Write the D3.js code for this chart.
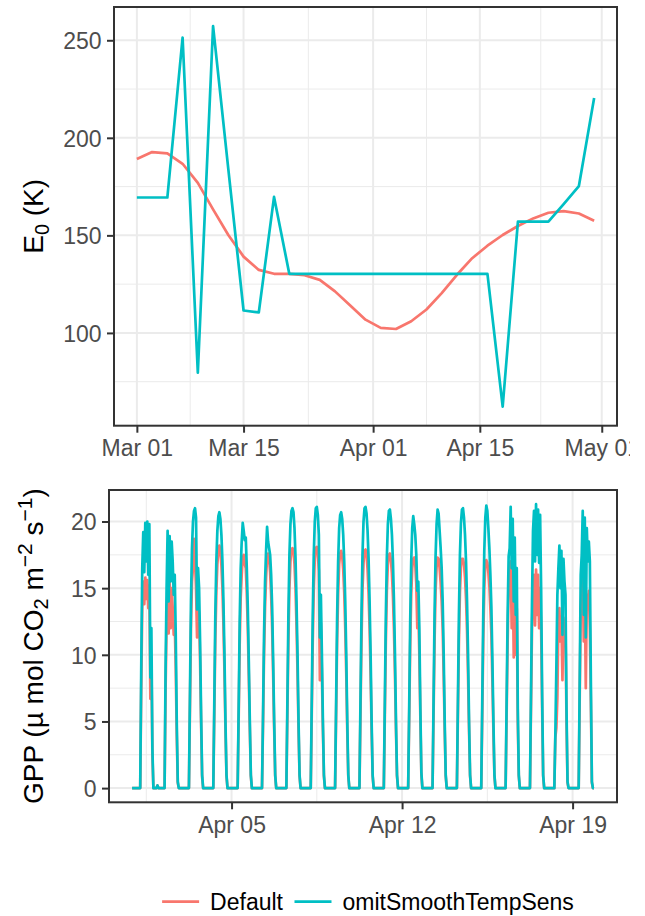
<!DOCTYPE html>
<html lang="en">
<head>
<meta charset="UTF-8">
<title>E0 and GPP, Default vs omitSmoothTempSens</title>
<script src="https://d3js.org/d3.v7.min.js"></script>
<style>
    body { margin: 0; background: #fff; }
    #canvas { font-family: "Liberation Sans", Arial, sans-serif; }
    .tick text { fill: #4d4d4d; font-size: 23px; }
    .tick line { stroke: #333333; stroke-width: 2px; }
    .axis-title { fill: #000; font-size: 28px; }
    .legend-text { fill: #000; font-size: 23px; }
</style>
</head>
<body>
<svg id="canvas" width="645" height="916"></svg>
<script>
    // ---- data ----
    const seriesNames = ["Default", "omitSmoothTempSens"];
    const seriesColors = ["#F8766D", "#00BFC4"];

    // E0, every second day
    const e0Dates = ["2021-03-01","2021-03-03","2021-03-05","2021-03-07","2021-03-09","2021-03-11",
        "2021-03-13","2021-03-15","2021-03-17","2021-03-19","2021-03-21","2021-03-23","2021-03-25",
        "2021-03-27","2021-03-29","2021-03-31","2021-04-02","2021-04-04","2021-04-06","2021-04-08",
        "2021-04-10","2021-04-12","2021-04-14","2021-04-16","2021-04-18","2021-04-20","2021-04-22",
        "2021-04-24","2021-04-26","2021-04-28","2021-04-30"];
    const e0Default = [189.1,192.7,192.0,186.7,176.9,163.3,150.2,139.1,132.3,130.3,130.3,129.6,127.2,
        121.3,114.0,106.8,102.6,102.0,106.0,112.0,120.4,129.8,138.3,144.7,150.2,154.8,158.7,161.6,
        162.4,161.2,157.5];
    const e0Omit = [169.4,169.4,169.4,251.4,79.6,257.3,184.0,111.5,110.5,169.7,130.3,130.3,130.3,
        130.3,130.3,130.3,130.3,130.3,130.3,130.3,130.3,130.3,130.3,130.3,62.2,157.0,157.0,157.0,
        166.0,175.3,220.4];
    const e0XTicks = ["2021-03-01","2021-03-15","2021-04-01","2021-04-15","2021-05-01"];
    const e0YTicks = [100, 150, 200, 250];

    // GPP, hourly from 2021-03-31 22:00; one row per day (22:00 .. 21:00)
    const gppStart = "2021-03-31T22:00:00Z";
    const gppDefault = [
        [0,0,0,0,0,0,0,0, 0,7.5,13.5,15.5,13.8,15.8,14.2,15.6,13.5,15.2,6.7,9.8,2.5,0,0, 0],
        [0,0.2,0,0,0,0,0,0, 0,7.5,12.5,15,11.6,15.5,12,15,13.5,11.5,12.5,9,4,0.4,0, 0],
        [0,0,0,0,0,0,0,0, 0,6,12,15.5,16.5,18.7,17,15,11.3,14,13,9.5,4.8,0.8,0, 0],
        [0,0,0,0,0,0,0,0, 0,5.6,11.2,14.7,16.8,17.8,18.2,17.8,16.7,15,12.3,8.8,4.4,0.9,0, 0],
        [0,0,0,0,0,0,0,0, 0,5.2,10.8,14.3,16,17.3,17.5,16.8,16.5,14.6,12,8.4,4.4,0.9,0, 0],
        [0,0,0,0,0,0,0,0, 0,4.8,10,13.6,15.8,17.3,17.6,17.2,16.2,14.5,12,8.4,4.4,0.9,0, 0],
        [0,0,0,0,0,0,0,0, 0,5.5,11,15,17,17.9,18,17.8,16.8,15,12.2,8.7,4.4,0.9,0, 0],
        [0,0,0,0,0,0,0,0, 0,5.5,11,15,17.2,18,18.1,17.6,16.3,8.1,12.4,8.6,4.4,0.9,0, 0],
        [0,0,0,0,0,0,0,0, 0,5.4,11,14.6,16.8,17.6,17.8,17.4,16.4,14.7,12,8.6,4.3,0.9,0, 0],
        [0,0,0,0,0,0,0,0, 0,5.5,11,14.9,16.9,17.8,17.9,17.5,16.4,14.6,12,8.5,4.3,0.9,0, 0],
        [0,0,0,0,0,0,0,0, 0,5.4,11,14.8,16.8,17.5,17.6,17.1,16.1,14.4,11.9,8.5,4.3,0.9,0, 0],
        [0,0,0,0,0,0,0,0, 0,5.2,10.7,14.5,16.5,17.2,17.3,16.8,15.3,12,13.5,10,5.3,1,0, 0],
        [0,0,0,0,0,0,0,0, 0,5.4,11,14.8,16.6,17.3,17.2,16.5,15.4,14,12,8.5,4.3,0.9,0, 0],
        [0,0,0,0,0,0,0,0, 0,5.4,11,14.7,16.6,17.2,17.2,16.8,15.8,14.2,11.8,8.4,4.3,0.9,0, 0],
        [0,0,0,0,0,0,0,0, 0,5.5,11.2,15,16.8,17.1,16.9,16.2,15.2,13.5,11.5,8,4.2,0.9,0, 0],
        [0,0,0,0,0,0,0,0, 0,5.5,11,15,16.8,17,12,16.5,9.8,16,10,13.5,5,0.9,0, 0],
        [0,0,0,0,0,0,0,0, 0,6,12,15.5,16,12.2,16.4,13,16,12,15,12,6,0.9,0, 0],
        [0,0,0,0,0,0,0,0, 0,3.8,4.5,6.8,12.5,13.5,11,12.5,8.1,12.8,12,12,5,0.4,0, 0],
        [0,0,0,0,0,0,0,0, 0,6.8,13.5,14.8,15.7,11,15.2,7.5,14.5,13.7,14.8,12,6.5,0.4,0, 0]
    ];
    const gppOmit = [
        [0,0,0,0,0,0,0,0, 0,9,16.5,19.2,16.2,19.9,17,20,16,19.8,8.3,12,3,0,0, 0],
        [0,0.2,0,0,0,0,0,0, 0,9,15,19.3,14,18.9,15.5,18.5,17,14.5,16,11.5,5,0.5,0, 0],
        [0,0,0,0,0,0,0,0, 0,7,14,18,20,20.8,21,20.3,13.4,16.5,15,11,5.5,1,0, 0],
        [0,0,0,0,0,0,0,0, 0,6.5,13,17,19.3,20.4,20.7,20.2,19,17,14,10,5,1,0, 0],
        [0,0,0,0,0,0,0,0, 0,6,12.5,16.5,18.5,19.9,19.3,18.6,18.8,16.5,13.5,9.5,5,1,0, 0],
        [0,0,0,0,0,0,0,0, 0,5.5,11.5,15.5,17.8,19.6,18.5,18,17.5,16,13.5,9.5,5,1,0, 0],
        [0,0,0,0,0,0,0,0, 0,6.5,13,17.5,19.8,20.8,21,20.7,19.5,17.3,14,10,5,1,0, 0],
        [0,0,0,0,0,0,0,0, 0,6.5,13,17.5,20,21,21.1,20.5,19,11.3,14.5,10,5,1,0, 0],
        [0,0,0,0,0,0,0,0, 0,6.3,12.8,17,19.5,20.5,20.7,20.2,19,17,14,10,5,1,0, 0],
        [0,0,0,0,0,0,0,0, 0,6.5,13,17.5,20,21,21.1,20.6,19.3,17.2,14,10,5,1,0, 0],
        [0,0,0,0,0,0,0,0, 0,6.4,12.9,17.3,19.8,20.8,20.9,20.2,19,17,14,10,5,1,0, 0],
        [0,0,0,0,0,0,0,0, 0,6,12.5,17,19.5,20.4,19.8,19,17.5,14.8,15.5,12,6,1.2,0, 0],
        [0,0,0,0,0,0,0,0, 0,6.4,13,17.4,19.8,20.9,20.6,19.3,18,16.5,14,10,5,1,0, 0],
        [0,0,0,0,0,0,0,0, 0,6.5,13,17.5,19.9,20.9,21,20.3,19,17,14,10,5,1,0, 0],
        [0,0,0,0,0,0,0,0, 0,6.6,13.2,17.8,20.3,21.2,20.8,19.5,18,16,13.5,9.5,5,1,0, 0],
        [0,0,0,0,0,0,0,0, 0,6.5,13,17.4,18,21.1,16.5,20.2,14,18.8,13,16.5,6,1,0, 0],
        [0,0,0,0,0,0,0,0, 0,7,14,19.3,20.8,17,21.3,17.5,20.9,16.9,20.5,15,7,1,0, 0],
        [0,0,0,0,0,0,0,0, 0,4,9,14.5,16.5,18.2,15,17.8,11.5,17.2,15.5,14.5,6,0.5,0, 0],
        [0,0,0,0,0,0,0,0, 0,8,16,17.5,20.8,13,20.3,11.3,19.5,17,18.5,17,8,0.5,0, 0]
    ];
    const gppXTicks = ["2021-04-05","2021-04-12","2021-04-19"];
    const gppYTicks = [0, 5, 10, 15, 20];

    // ---- helpers ----
    let svg = d3.select("#canvas");
    let parseDay = d3.utcParse("%Y-%m-%d");
    let fmt = d3.utcFormat("%b %d");

    // ggplot style 5% expansion
    function expand(ext){
        let r = ext[1] - ext[0];
        return [ext[0] - 0.05 * r, ext[1] + 0.05 * r];
    }
    // minor breaks halfway between majors (one step either side too)
    function minorBreaks(majors, domain){
        let m = [];
        for (let i = 0; i < majors.length - 1; i++) m.push((+majors[i] + +majors[i+1]) / 2);
        let step0 = +majors[1] - +majors[0], stepN = +majors[majors.length-1] - +majors[majors.length-2];
        m.push(+majors[0] - step0 / 2, +majors[majors.length-1] + stepN / 2);
        return m.filter(v => v > +domain[0] && v < +domain[1]);
    }

    function drawPanel(box, xScale, yScale, xTicks, yTicks, series){
        let g = svg.append("g");
        let xd = xScale.domain(), yd = yScale.domain();

        // grid
        let xMin = minorBreaks(xTicks, xd), yMin = minorBreaks(yTicks, yd);
        g.selectAll(".gx-minor").data(xMin).enter().append("line")
            .attr("x1", d => xScale(d)).attr("x2", d => xScale(d))
            .attr("y1", box.top).attr("y2", box.bottom)
            .attr("stroke", "#ebebeb").attr("stroke-width", 1);
        g.selectAll(".gy-minor").data(yMin).enter().append("line")
            .attr("y1", d => yScale(d)).attr("y2", d => yScale(d))
            .attr("x1", box.left).attr("x2", box.right)
            .attr("stroke", "#ebebeb").attr("stroke-width", 1);
        g.selectAll(".gx").data(xTicks.filter(d => d >= xd[0] && d <= xd[1])).enter().append("line")
            .attr("x1", d => xScale(d)).attr("x2", d => xScale(d))
            .attr("y1", box.top).attr("y2", box.bottom)
            .attr("stroke", "#ebebeb").attr("stroke-width", 2);
        g.selectAll(".gy").data(yTicks).enter().append("line")
            .attr("y1", d => yScale(d)).attr("y2", d => yScale(d))
            .attr("x1", box.left).attr("x2", box.right)
            .attr("stroke", "#ebebeb").attr("stroke-width", 2);

        // lines
        let line = d3.line().x(d => xScale(d.t)).y(d => yScale(d.v));
        series.forEach(s => {
            g.append("path").datum(s.values)
                .attr("d", line)
                .attr("fill", "none")
                .attr("stroke", s.color)
                .attr("stroke-width", 2.7)
                .attr("stroke-linejoin", "round");
        });

        // border
        g.append("rect")
            .attr("x", box.left).attr("y", box.top)
            .attr("width", box.right - box.left).attr("height", box.bottom - box.top)
            .attr("fill", "none").attr("stroke", "#333333").attr("stroke-width", 2);

        // axes
        let xAxis = g.append("g")
            .attr("transform", "translate(0," + box.bottom + ")")
            .call(d3.axisBottom(xScale).tickValues(xTicks).tickFormat(fmt)
                .tickSizeInner(7).tickSizeOuter(0).tickPadding(7));
        let yAxis = g.append("g")
            .attr("transform", "translate(" + box.left + ",0)")
            .call(d3.axisLeft(yScale).tickValues(yTicks)
                .tickSizeInner(7).tickSizeOuter(0).tickPadding(5.5));
        [xAxis, yAxis].forEach(a => {
            a.attr("font-family", null).attr("font-size", null);
            a.select(".domain").remove();
        });
        yAxis.selectAll("text").attr("dy", "0.36em");
        return g;
    }

    // ---- top panel: E0 ----
    // "May 01" is cut off at the right like the original
    svg.append("defs").append("clipPath").attr("id", "clipTop")
        .append("rect").attr("x", 0).attr("y", 0).attr("width", 630).attr("height", 470);

    let topBox = {left: 114, right: 617, top: 7, bottom: 425.7};
    let e0T = e0Dates.map(parseDay);
    let xTop = d3.scaleUtc()
        .domain(expand(d3.extent(e0T, d => +d)).map(v => new Date(v)))
        .range([topBox.left, topBox.right]);
    let yTop = d3.scaleLinear()
        .domain(expand(d3.extent(e0Default.concat(e0Omit))))
        .range([topBox.bottom, topBox.top]);
    let topPanel = drawPanel(topBox, xTop, yTop, e0XTicks.map(parseDay), e0YTicks, [
        {color: seriesColors[0], values: e0T.map((t, i) => ({t: t, v: e0Default[i]}))},
        {color: seriesColors[1], values: e0T.map((t, i) => ({t: t, v: e0Omit[i]}))}
    ]);
    topPanel.attr("clip-path", "url(#clipTop)");

    // ---- bottom panel: GPP ----
    let botBox = {left: 109, right: 617, top: 490, bottom: 802.3};
    let t0 = Date.parse(gppStart);
    let flatDef = gppDefault.flat(), flatOmit = gppOmit.flat();
    let gppT = flatDef.map((v, i) => new Date(t0 + i * 3600e3));
    let xBot = d3.scaleUtc()
        .domain(expand(d3.extent(gppT, d => +d)).map(v => new Date(v)))
        .range([botBox.left, botBox.right]);
    let yBot = d3.scaleLinear()
        .domain(expand(d3.extent(flatDef.concat(flatOmit))))
        .range([botBox.bottom, botBox.top]);
    drawPanel(botBox, xBot, yBot, gppXTicks.map(parseDay), gppYTicks, [
        {color: seriesColors[0], values: gppT.map((t, i) => ({t: t, v: flatDef[i]}))},
        {color: seriesColors[1], values: gppT.map((t, i) => ({t: t, v: flatOmit[i]}))}
    ]);

    // ---- axis titles ----
    let titleX = 43;
    let t1 = svg.append("text").attr("class", "axis-title")
        .attr("transform", "translate(" + titleX + "," + ((topBox.top + topBox.bottom) / 2) + ") rotate(-90)")
        .attr("text-anchor", "middle");
    t1.append("tspan").text("E");
    t1.append("tspan").attr("font-size", "20px").attr("dy", 6).text("0");
    t1.append("tspan").attr("dy", -6).text(" (K)");

    let t2 = svg.append("text").attr("class", "axis-title")
        .attr("transform", "translate(" + titleX + "," + ((botBox.top + botBox.bottom) / 2) + ") rotate(-90)")
        .attr("text-anchor", "middle");
    t2.append("tspan").text("GPP (\u00b5 mol CO");
    t2.append("tspan").attr("font-size", "20px").attr("dy", 5).text("2");
    t2.append("tspan").attr("dy", -5).text(" m");
    t2.append("tspan").attr("font-size", "21px").attr("dy", -11).text("\u22122");
    t2.append("tspan").attr("dy", 11).text(" s");
    t2.append("tspan").attr("font-size", "21px").attr("dy", -11).text("\u22121");
    t2.append("tspan").attr("dy", 11).text(")");

    // ---- legend ----
    let legendY = 901.7, keyLen = 37, keyGap = 11, itemGap = 11.5;
    let legend = svg.append("g");
    let items = seriesNames.map((name, i) => {
        let it = legend.append("g");
        it.append("line").attr("x1", 0).attr("x2", keyLen)
            .attr("y1", legendY).attr("y2", legendY)
            .attr("stroke", seriesColors[i]).attr("stroke-width", 2.7);
        let txt = it.append("text").attr("class", "legend-text")
            .attr("x", keyLen + keyGap).attr("y", legendY).attr("dy", "0.36em").text(name);
        return {g: it, w: keyLen + keyGap + txt.node().getComputedTextLength()};
    });
    let totalW = d3.sum(items, d => d.w) + itemGap * (items.length - 1);
    let xPos = 368 - totalW / 2;
    items.forEach(d => {
        d.g.attr("transform", "translate(" + xPos + ",0)");
        xPos += d.w + itemGap;
    });
</script>
</body>
</html>
